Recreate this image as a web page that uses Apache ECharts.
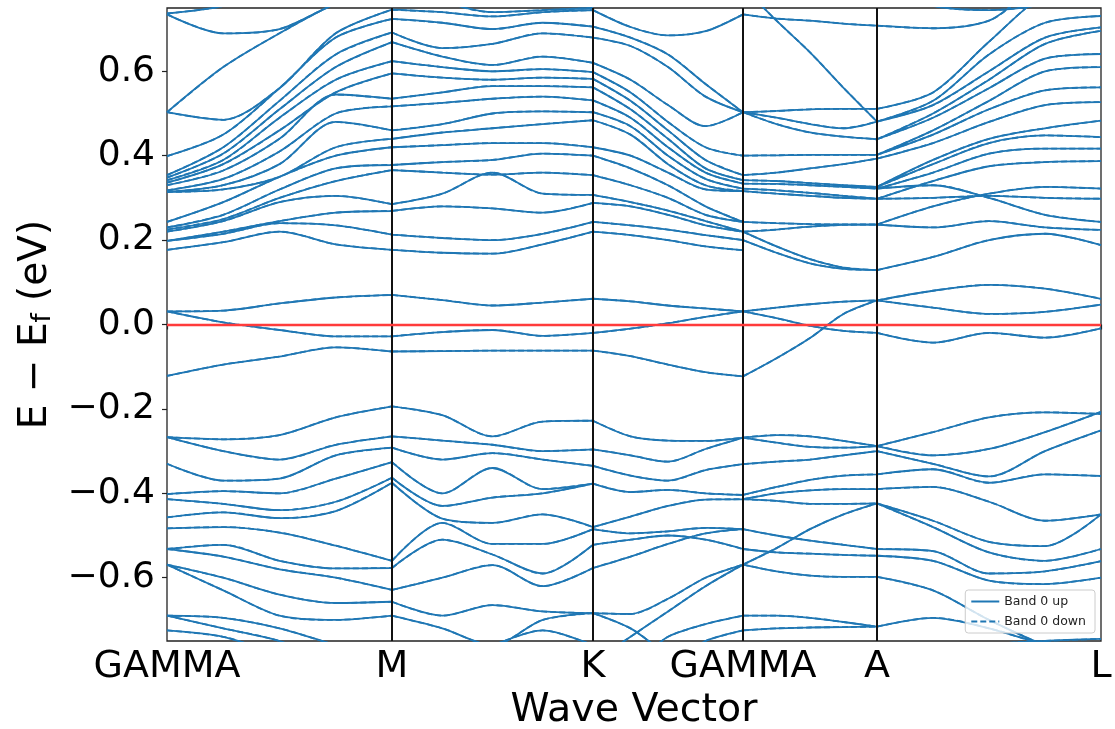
<!DOCTYPE html>
<html lang="en">
  <head>
    <meta charset="UTF-8" />
    <title>Band structure</title>
    <script src="https://cdn.jsdelivr.net/npm/echarts@6/dist/echarts.min.js"></script>
    <style>
      html, body { margin: 0; padding: 0; background: #fff; }
      .echarts { width: 1115px; height: 729px; }
    </style>
  </head>
  <body>
    <div class="echarts"></div>
    <script>
        const FONT = '"DejaVu Sans", sans-serif'

        // k-path: high symmetry points (cumulative distance) and their labels
        const kTicks = [0, 2.25, 4.26, 5.76, 7.10, 9.34]
        const kLabels = ['GAMMA', 'M', 'K', 'GAMMA', 'A', 'L']
        const eTicks = [-0.6, -0.4, -0.2, 0, 0.2, 0.4, 0.6]

        // each row = one band, energies (eV) at 5 evenly spaced k-points of the segment
        const bandsGM = [
            [0.737, 0.755, 0.80, 0.80, 0.80],
            [0.735, 0.690, 0.700, 0.760, 0.80],
            [0.503, 0.610, 0.690, 0.760, 0.80],
            [0.503, 0.485, 0.560, 0.690, 0.746],
            [0.399, 0.450, 0.560, 0.680, 0.724],
            [0.354, 0.420, 0.530, 0.640, 0.692],
            [0.348, 0.405, 0.510, 0.610, 0.669],
            [0.342, 0.390, 0.490, 0.580, 0.624],
            [0.336, 0.380, 0.460, 0.550, 0.595],
            [0.330, 0.365, 0.440, 0.545, 0.535],
            [0.318, 0.345, 0.410, 0.500, 0.517],
            [0.314, 0.330, 0.380, 0.480, 0.460],
            [0.314, 0.320, 0.350, 0.420, 0.440],
            [0.243, 0.290, 0.350, 0.400, 0.420],
            [0.230, 0.260, 0.320, 0.370, 0.378],
            [0.225, 0.250, 0.300, 0.340, 0.366],
            [0.220, 0.245, 0.290, 0.305, 0.285],
            [0.198, 0.220, 0.245, 0.265, 0.269],
            [0.198, 0.215, 0.240, 0.235, 0.213],
            [0.177, 0.195, 0.220, 0.190, 0.177],
            [0.031, 0.033, 0.050, 0.064, 0.070],
            [0.031, 0.005, -0.013, -0.028, -0.028],
            [-0.122, -0.095, -0.076, -0.054, -0.064],
            [-0.267, -0.272, -0.262, -0.220, -0.194],
            [-0.267, -0.300, -0.320, -0.285, -0.265],
            [-0.330, -0.370, -0.365, -0.310, -0.292],
            [-0.402, -0.395, -0.400, -0.365, -0.326],
            [-0.414, -0.425, -0.440, -0.420, -0.363],
            [-0.457, -0.445, -0.459, -0.442, -0.375],
            [-0.483, -0.480, -0.493, -0.524, -0.560],
            [-0.532, -0.522, -0.560, -0.578, -0.577],
            [-0.532, -0.550, -0.580, -0.600, -0.629],
            [-0.569, -0.600, -0.640, -0.660, -0.657],
            [-0.569, -0.630, -0.690, -0.700, -0.690],
            [-0.690, -0.695, -0.720, -0.760, -0.800],
            [-0.690, -0.720, -0.750, -0.800, -0.800],
            [-0.725, -0.740, -0.780, -0.800, -0.800]
        ]

        const bandsMK = [
            [0.800, 0.765, 0.740, 0.745, 0.750],
            [0.746, 0.740, 0.730, 0.740, 0.745],
            [0.724, 0.715, 0.700, 0.715, 0.706],
            [0.692, 0.655, 0.665, 0.690, 0.680],
            [0.669, 0.635, 0.615, 0.635, 0.620],
            [0.624, 0.610, 0.600, 0.605, 0.598],
            [0.595, 0.585, 0.580, 0.585, 0.582],
            [0.535, 0.550, 0.565, 0.565, 0.562],
            [0.517, 0.525, 0.535, 0.540, 0.531],
            [0.460, 0.475, 0.500, 0.505, 0.503],
            [0.440, 0.455, 0.465, 0.475, 0.484],
            [0.420, 0.425, 0.430, 0.430, 0.420],
            [0.378, 0.385, 0.390, 0.405, 0.400],
            [0.366, 0.360, 0.355, 0.360, 0.354],
            [0.285, 0.310, 0.360, 0.310, 0.307],
            [0.269, 0.280, 0.275, 0.265, 0.288],
            [0.213, 0.205, 0.200, 0.215, 0.243],
            [0.177, 0.170, 0.168, 0.190, 0.220],
            [0.070, 0.058, 0.045, 0.052, 0.061],
            [-0.028, -0.018, -0.013, -0.027, -0.020],
            [-0.064, -0.063, -0.062, -0.062, -0.062],
            [-0.194, -0.215, -0.265, -0.230, -0.228],
            [-0.265, -0.275, -0.285, -0.300, -0.296],
            [-0.292, -0.320, -0.305, -0.320, -0.335],
            [-0.326, -0.400, -0.340, -0.390, -0.377],
            [-0.363, -0.430, -0.410, -0.400, -0.377],
            [-0.375, -0.460, -0.470, -0.450, -0.480],
            [-0.560, -0.470, -0.520, -0.520, -0.485],
            [-0.577, -0.510, -0.545, -0.590, -0.522],
            [-0.629, -0.600, -0.570, -0.620, -0.577],
            [-0.657, -0.690, -0.665, -0.680, -0.684],
            [-0.690, -0.720, -0.760, -0.700, -0.684],
            [-0.800, -0.800, -0.760, -0.725, -0.760]
        ]

        const bandsKG = [
            [0.745, 0.705, 0.685, 0.695, 0.735],
            [0.706, 0.680, 0.640, 0.570, 0.503],
            [0.680, 0.660, 0.610, 0.540, 0.503],
            [0.620, 0.580, 0.520, 0.470, 0.503],
            [0.598, 0.550, 0.480, 0.420, 0.400],
            [0.582, 0.530, 0.460, 0.390, 0.354],
            [0.562, 0.510, 0.440, 0.370, 0.342],
            [0.531, 0.490, 0.420, 0.360, 0.334],
            [0.503, 0.470, 0.400, 0.345, 0.322],
            [0.484, 0.450, 0.380, 0.330, 0.316],
            [0.420, 0.400, 0.360, 0.320, 0.316],
            [0.400, 0.370, 0.330, 0.280, 0.243],
            [0.354, 0.330, 0.300, 0.260, 0.243],
            [0.307, 0.290, 0.270, 0.245, 0.220],
            [0.288, 0.280, 0.260, 0.235, 0.220],
            [0.243, 0.235, 0.225, 0.212, 0.200],
            [0.220, 0.212, 0.200, 0.185, 0.176],
            [0.061, 0.055, 0.045, 0.038, 0.031],
            [-0.020, -0.010, 0.003, 0.018, 0.031],
            [-0.062, -0.075, -0.095, -0.113, -0.123],
            [-0.228, -0.265, -0.275, -0.276, -0.268],
            [-0.296, -0.310, -0.325, -0.295, -0.268],
            [-0.335, -0.358, -0.370, -0.345, -0.331],
            [-0.377, -0.397, -0.392, -0.400, -0.404],
            [-0.480, -0.455, -0.430, -0.415, -0.414],
            [-0.485, -0.495, -0.490, -0.482, -0.485],
            [-0.522, -0.510, -0.500, -0.510, -0.532],
            [-0.577, -0.550, -0.520, -0.495, -0.485],
            [-0.684, -0.686, -0.650, -0.600, -0.569],
            [-0.800, -0.740, -0.680, -0.620, -0.569],
            [-0.800, -0.800, -0.740, -0.710, -0.690],
            [-0.800, -0.800, -0.800, -0.750, -0.725],
            [-0.684, -0.720, -0.780, -0.800, -0.800]
        ]

        const bandsGA = [
            [0.735, 0.725, 0.720, 0.713, 0.708],
            [0.800, 0.720, 0.645, 0.561, 0.481],
            [0.503, 0.506, 0.510, 0.511, 0.511],
            [0.503, 0.490, 0.475, 0.465, 0.481],
            [0.503, 0.475, 0.455, 0.445, 0.439],
            [0.400, 0.401, 0.402, 0.402, 0.402],
            [0.354, 0.360, 0.370, 0.380, 0.393],
            [0.342, 0.340, 0.335, 0.330, 0.326],
            [0.334, 0.333, 0.330, 0.326, 0.322],
            [0.322, 0.318, 0.312, 0.305, 0.298],
            [0.316, 0.310, 0.305, 0.300, 0.298],
            [0.243, 0.240, 0.238, 0.237, 0.237],
            [0.220, 0.225, 0.232, 0.236, 0.237],
            [0.220, 0.185, 0.155, 0.135, 0.129],
            [0.200, 0.170, 0.145, 0.132, 0.129],
            [0.031, 0.040, 0.048, 0.054, 0.057],
            [0.031, 0.015, -0.003, -0.015, -0.020],
            [-0.123, -0.080, -0.032, 0.025, 0.057],
            [-0.268, -0.262, -0.265, -0.276, -0.288],
            [-0.268, -0.280, -0.290, -0.292, -0.288],
            [-0.331, -0.325, -0.320, -0.310, -0.300],
            [-0.404, -0.385, -0.368, -0.358, -0.355],
            [-0.414, -0.400, -0.393, -0.390, -0.390],
            [-0.414, -0.418, -0.425, -0.425, -0.424],
            [-0.569, -0.530, -0.485, -0.450, -0.424],
            [-0.485, -0.500, -0.512, -0.522, -0.532],
            [-0.532, -0.540, -0.543, -0.546, -0.548],
            [-0.569, -0.585, -0.595, -0.598, -0.598],
            [-0.690, -0.690, -0.695, -0.705, -0.716],
            [-0.725, -0.720, -0.718, -0.717, -0.716]
        ]

        const bandsAL = [
            [0.708, 0.702, 0.720, 0.800, 0.800],
            [0.800, 0.755, 0.745, 0.760, 0.800],
            [0.511, 0.550, 0.670, 0.780, 0.800],
            [0.481, 0.530, 0.640, 0.715, 0.731],
            [0.481, 0.520, 0.600, 0.680, 0.704],
            [0.439, 0.500, 0.580, 0.665, 0.696],
            [0.439, 0.490, 0.560, 0.630, 0.641],
            [0.402, 0.460, 0.530, 0.600, 0.610],
            [0.402, 0.450, 0.510, 0.555, 0.562],
            [0.393, 0.430, 0.480, 0.520, 0.527],
            [0.326, 0.390, 0.440, 0.465, 0.483],
            [0.326, 0.380, 0.430, 0.448, 0.444],
            [0.322, 0.360, 0.405, 0.417, 0.417],
            [0.298, 0.340, 0.375, 0.385, 0.387],
            [0.237, 0.280, 0.310, 0.326, 0.322],
            [0.298, 0.300, 0.305, 0.300, 0.298],
            [0.322, 0.330, 0.300, 0.260, 0.243],
            [0.237, 0.230, 0.245, 0.230, 0.224],
            [0.129, 0.160, 0.200, 0.215, 0.188],
            [0.057, 0.080, 0.094, 0.085, 0.061],
            [0.057, 0.040, 0.025, 0.030, 0.047],
            [-0.020, -0.043, -0.020, -0.031, -0.009],
            [-0.288, -0.255, -0.220, -0.208, -0.212],
            [-0.288, -0.310, -0.295, -0.255, -0.207],
            [-0.300, -0.330, -0.360, -0.300, -0.251],
            [-0.355, -0.343, -0.375, -0.355, -0.359],
            [-0.390, -0.385, -0.420, -0.465, -0.450],
            [-0.424, -0.465, -0.515, -0.525, -0.450],
            [-0.424, -0.480, -0.540, -0.560, -0.532],
            [-0.532, -0.537, -0.590, -0.585, -0.561],
            [-0.548, -0.560, -0.607, -0.615, -0.600],
            [-0.598, -0.630, -0.700, -0.760, -0.800],
            [-0.716, -0.695, -0.720, -0.760, -0.800],
            [-0.800, -0.800, -0.760, -0.750, -0.745]
        ]

        const segments = [bandsGM, bandsMK, bandsKG, bandsGA, bandsAL]

        // all bands as one polyline, broken between curves
        const bandPoints = []
        segments.forEach((rows, s) => {
            const k0 = kTicks[s], k1 = kTicks[s + 1]
            rows.forEach((row) => {
                row.forEach((e, j) => bandPoints.push([k0 + (k1 - k0) * j / (row.length - 1), e]))
                bandPoints.push(['-', '-'])
            })
        })

        const fmtE = (v) => (v < 0 ? '\u2212' : '') + Math.abs(v).toFixed(1)
        const kName = (v) => {
            const i = kTicks.findIndex((t) => Math.abs(t - v) < 1e-6)
            return i < 0 ? '' : kLabels[i]
        }

        const myCharts = echarts.init(document.querySelector('.echarts'))

        const option = {
            animation: false,
            textStyle: { fontFamily: FONT },
            grid: {
                left: 167, right: 14, top: 8, bottom: 88,
                show: true, borderColor: '#222', borderWidth: 1.3,
                outerBoundsMode: 'none'
            },
            legend: {
                data: ['Band 0 up', 'Band 0 down'],
                orient: 'vertical',
                right: 20, bottom: 96,
                itemWidth: 28, itemHeight: 12, itemGap: 7,
                padding: [5, 9, 5, 5],
                backgroundColor: 'rgba(255,255,255,0.8)',
                borderColor: '#ccc', borderWidth: 1, borderRadius: 3,
                itemStyle: { opacity: 0 },
                textStyle: { fontFamily: FONT, fontSize: 12.5, color: '#222' }
            },
            xAxis: {
                type: 'value', min: kTicks[0], max: kTicks[kTicks.length - 1],
                name: 'Wave Vector', nameLocation: 'middle', nameGap: 49,
                nameTextStyle: { fontFamily: FONT, fontSize: 39.5, color: '#000' },
                axisLine: { show: false },
                splitLine: { show: false },
                axisTick: { show: true, length: 5, customValues: kTicks, lineStyle: { color: '#222', width: 1.2 } },
                axisLabel: {
                    customValues: kTicks, formatter: kName, margin: 7,
                    fontFamily: FONT, fontSize: 38, color: '#000'
                }
            },
            yAxis: {
                type: 'value', min: -0.75, max: 0.75,
                name: '{n|E \u2212 E}{s|f}{n| (eV)}', nameLocation: 'middle', nameGap: 110, nameRotate: 90,
                nameTextStyle: {
                    rich: {
                        n: { fontFamily: FONT, fontSize: 39, color: '#000' },
                        s: { fontFamily: FONT, fontSize: 26, color: '#000', padding: [16, 0, 0, 0] }
                    }
                },
                axisLine: { show: false },
                splitLine: { show: false },
                axisTick: { show: true, length: 5, customValues: eTicks, lineStyle: { color: '#222', width: 1.2 } },
                axisLabel: {
                    customValues: eTicks, formatter: fmtE, margin: 12,
                    fontFamily: FONT, fontSize: 36, color: '#000'
                }
            },
            series: [
                {
                    name: 'Band 0 up', type: 'line', data: bandPoints,
                    symbol: 'none', smooth: 0.3, connectNulls: false, z: 2,
                    lineStyle: { color: '#1f77b4', width: 1.8 },
                    itemStyle: { color: '#1f77b4' }
                },
                {
                    name: 'Band 0 down', type: 'line', data: bandPoints,
                    symbol: 'none', smooth: 0.3, connectNulls: false, z: 2,
                    lineStyle: { color: '#1f77b4', width: 1.8, type: [6, 3] },
                    itemStyle: { color: '#1f77b4' }
                },
                {
                    name: 'kpath', type: 'line', data: [], z: 3,
                    markLine: {
                        silent: true, symbol: ['none', 'none'], label: { show: false },
                        lineStyle: { color: '#111', width: 2, type: 'solid' },
                        data: kTicks.slice(1, -1).map((k) => ({ xAxis: k }))
                    }
                },
                {
                    name: 'fermi', type: 'line', data: [], z: 4,
                    markLine: {
                        silent: true, symbol: ['none', 'none'], label: { show: false },
                        lineStyle: { color: '#ff3b3b', width: 2.4, type: 'solid' },
                        data: [{ yAxis: 0 }]
                    }
                }
            ]
        }

        myCharts.setOption(option)
    </script>
  </body>
</html>
